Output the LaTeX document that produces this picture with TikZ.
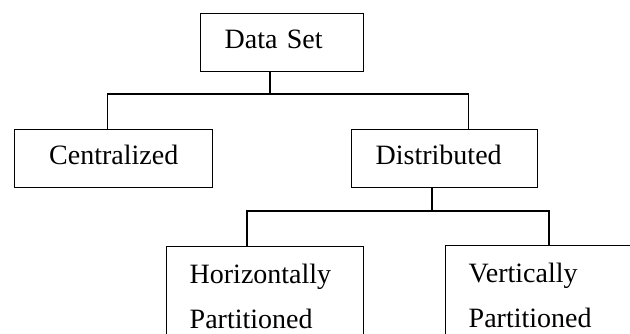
\documentclass[tikz,border=0pt]{standalone}
\usepackage{fontspec}
\setmainfont{Liberation Serif}
\usetikzlibrary{positioning}

\tikzset{
    box/.style={draw, rectangle, anchor=north west, inner xsep=24pt,
        align=left, minimum height=58pt, text height=19pt, text depth=7pt,
        font=\fontsize{28}{45}\selectfont},
    leaf/.style={draw, rectangle, anchor=north west, inner xsep=23pt,
        inner ysep=17pt, align=left, font=\fontsize{28}{45}\selectfont}
}

\begin{document}
\begin{tikzpicture}[x=1pt,y=-1pt,line width=1.4pt]
    \useasboundingbox (0,0) rectangle (630,333);
    \clip (0,0) rectangle (630,333);
    \node[box,text width=115pt] (dataset) at (200,13) {Data Set};
    \node[box,text width=150pt,align=center] (central) at (14,129) {Centralized};
    \node[box,text width=138pt] (distrib) at (351,129) {Distributed};
    \node[leaf,text width=151pt] (horiz) at (166,246) {Horizontally\\Partitioned};
    \node[leaf,text width=200pt] (vert) at (445,245) {Vertically\\Partitioned};
    \coordinate (bus1) at (270,94);
    \coordinate (bus2) at (432,211);
    \draw (dataset.south -| bus1) -- (bus1);
    \draw ([xshift=-6pt]central.north) |- (bus1) -| ([xshift=24pt]distrib.north);
    \draw (distrib.south -| bus2) -- (bus2);
    \draw ([xshift=81pt]horiz.north west) |- (bus2) -| ([xshift=104pt]vert.north west);
\end{tikzpicture}
\end{document}
